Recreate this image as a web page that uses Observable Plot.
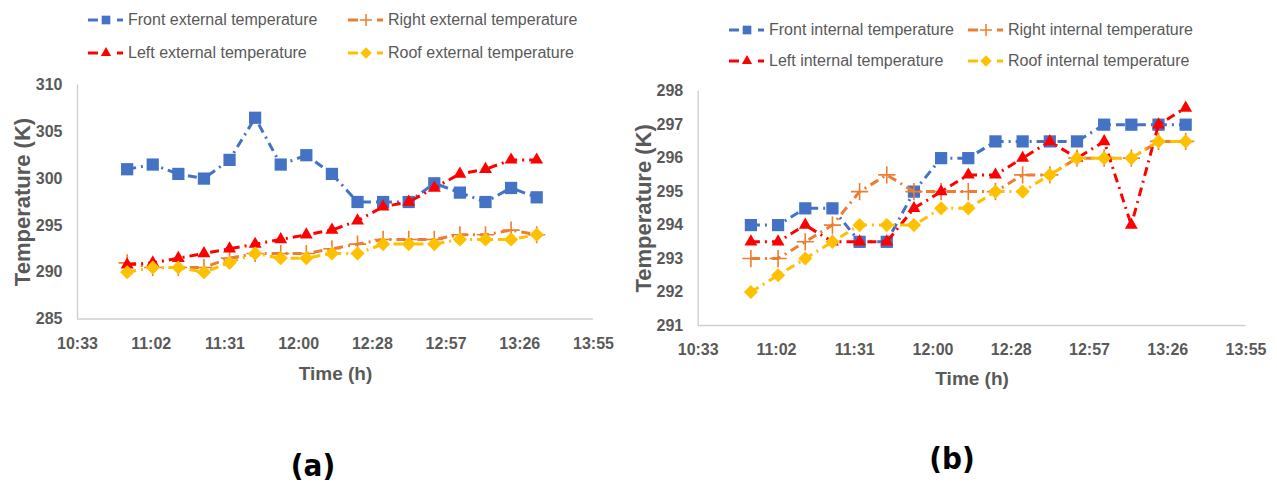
<!DOCTYPE html>
<html>
<head>
<meta charset="utf-8">
<script src="https://cdn.jsdelivr.net/npm/d3@7"></script>
<script src="https://cdn.jsdelivr.net/npm/@observablehq/plot@0.6"></script>
<style>
  body { margin: 0; background: #fff; font-family: "Liberation Sans", Arial, sans-serif; }
  #fig { position: relative; width: 1277px; height: 484px; overflow: hidden; background: #fff; }
  .panel { position: absolute; }
  .item { position: absolute; display: flex; align-items: center; height: 20px; font-size: 16px; color: #595959; white-space: nowrap; }
  .item svg { margin-right: 4px; overflow: visible; }
  .tag { position: absolute; transform: translate(-50%, -50%); font-family: "Liberation Sans Narrow", "DejaVu Sans Condensed", "Liberation Sans", sans-serif; font-weight: bold; font-size: 31px; color: #000; }
</style>
</head>
<body>
<div id="fig"></div>
<script>
// Sampling times (h:mm), one reading every 10 minutes
const times = ["10:53", "11:03", "11:13", "11:23", "11:33", "11:43", "11:53", "12:03", "12:13",
               "12:23", "12:33", "12:43", "12:53", "13:03", "13:13", "13:23", "13:33"];

// Time axis: ticks every 0.02 day, labels as shown in h:mm
const tickDays = [0.44, 0.46, 0.48, 0.50, 0.52, 0.54, 0.56, 0.58];
const tickLabels = ["10:33", "11:02", "11:31", "12:00", "12:28", "12:57", "13:26", "13:55"];

// External surface temperatures (K)
const frontExternal = [301, 301.5, 300.5, 300, 302, 306.5, 301.5, 302.5, 300.5, 297.5, 297.5, 297.5, 299.5, 298.5, 297.5, 299, 298];
const rightExternal = [291, 290.5, 290.5, 290.5, 291.5, 292, 292, 292, 292.5, 293, 293.5, 293.5, 293.5, 294, 294, 294.5, 294];
const leftExternal  = [290.8, 291, 291.5, 292, 292.5, 293, 293.5, 294, 294.5, 295.5, 297, 297.5, 299, 300.5, 301, 302, 302];
const roofExternal  = [290, 290.5, 290.5, 290, 291, 292, 291.5, 291.5, 292, 292, 293, 293, 293, 293.5, 293.5, 293.5, 294];

// Internal surface temperatures (K)
const frontInternal = [294, 294, 294.5, 294.5, 293.5, 293.5, 295, 296, 296, 296.5, 296.5, 296.5, 296.5, 297, 297, 297, 297];
const rightInternal = [293, 293, 293.5, 294, 295, 295.5, 295, 295, 295, 295, 295.5, 295.5, 296, 296, 296, 296.5, 296.5];
const leftInternal  = [293.5, 293.5, 294, 293.5, 293.5, 293.5, 294.5, 295, 295.5, 295.5, 296, 296.5, 296, 296.5, 294, 297, 297.5];
const roofInternal  = [292, 292.5, 293, 293.5, 294, 294, 294, 294.5, 294.5, 295, 295, 295.5, 296, 296, 296, 296.5, 296.5];

// Y axis ticks
const extTicks = [285, 290, 295, 300, 305, 310];
const intTicks = [291, 292, 293, 294, 295, 296, 297, 298];

const toMinutes = s => { const [h, m] = s.split(":").map(Number); return h * 60 + m; };
const xTicks = tickDays.map(d => d * 1440);
const xDomain = [xTicks[0], xTicks[xTicks.length - 1]];

const styles = {
  Front: { color: "#4472C4", symbol: "square",   r: 6.9, fill: true,  sw: 0 },
  Right: { color: "#ED7D31", symbol: "plus",     r: 5.6, fill: false, sw: 1.6 },
  Left:  { color: "#FF0000", symbol: "triangle", r: 4.8, fill: true,  sw: 0 },
  Roof:  { color: "#FFC000", symbol: "diamond2", r: 5.6, fill: true,  sw: 1.2 }
};
const dash = "9,5,2,5";

function seriesMarks(key, values) {
  const st = styles[key];
  const data = values.map((v, i) => ({ t: toMinutes(times[i]), v }));
  return [
    Plot.line(data, { x: "t", y: "v", stroke: st.color, strokeWidth: 3, strokeDasharray: dash, strokeLinecap: "butt" }),
    Plot.dot(data, {
      x: "t", y: "v", symbol: st.symbol, r: st.r,
      fill: st.fill ? st.color : "none",
      stroke: st.sw ? st.color : "none",
      strokeWidth: st.sw
    })
  ];
}

function panel({ series, yTicks, width, height, margin, yPad, xPad, yTitleDx, xTitleDy }) {
  return Plot.plot({
    width, height,
    marginLeft: margin[0], marginRight: margin[1], marginTop: margin[2], marginBottom: margin[3],
    style: { fontFamily: "'Liberation Sans', Arial, sans-serif", fontWeight: "bold", color: "#595959", background: "transparent", overflow: "visible" },
    x: { type: "linear", domain: xDomain },
    y: { domain: [yTicks[0], yTicks[yTicks.length - 1]] },
    marks: [
      Plot.ruleY([yTicks[0]], { stroke: "#d0d0d0", strokeWidth: 1.4 }),
      Plot.ruleX([xDomain[0]], { stroke: "#d0d0d0", strokeWidth: 1.4 }),
      Plot.axisY({ ticks: yTicks, tickSize: 0, tickPadding: yPad, fontSize: 16, label: null, tickFormat: d => String(d) }),
      Plot.axisX({ ticks: xTicks, tickSize: 0, tickPadding: xPad, fontSize: 16, label: null,
                   tickFormat: d => tickLabels[xTicks.findIndex(t => Math.abs(t - d) < 1e-6)] }),
      Plot.text(["Temperature (K)"], { frameAnchor: "left", dx: yTitleDx, rotate: -90, textAnchor: "middle", lineAnchor: "middle", fontSize: 22 }),
      Plot.text(["Time (h)"], { frameAnchor: "bottom", dy: xTitleDy, textAnchor: "middle", lineAnchor: "middle", fontSize: 19 }),
      ...series.flatMap(([key, values]) => seriesMarks(key, values))
    ]
  });
}

const fig = document.getElementById("fig");

function place(node, left, top) {
  node.classList.add("panel");
  node.style.left = left + "px";
  node.style.top = top + "px";
  fig.appendChild(node);
}

// (a) external temperatures
place(panel({
  series: [["Front", frontExternal], ["Right", rightExternal], ["Left", leftExternal], ["Roof", roofExternal]],
  yTicks: extTicks, width: 620, height: 320, margin: [77, 27, 14.5, 71.5],
  yPad: 15, xPad: 19, yTitleDx: -55, xTitleDy: 55
}), 0, 70);

// (b) internal temperatures
place(panel({
  series: [["Front", frontInternal], ["Right", rightInternal], ["Left", leftInternal], ["Roof", roofInternal]],
  yTicks: intTicks, width: 657, height: 330, margin: [77.7, 31.5, 20.7, 75],
  yPad: 15, xPad: 18, yTitleDx: -54.7, xTitleDy: 53
}), 620, 70);

// Legends
function legendSymbol(key) {
  const st = styles[key];
  const svg = d3.create("svg").attr("width", 36).attr("height", 16);
  svg.append("line").attr("x1", 0).attr("x2", 10).attr("y1", 8).attr("y2", 8)
    .attr("stroke", st.color).attr("stroke-width", 3);
  svg.append("line").attr("x1", 29).attr("x2", 35).attr("y1", 8).attr("y2", 8)
    .attr("stroke", st.color).attr("stroke-width", 3);
  const types = { square: d3.symbolSquare, plus: d3.symbolPlus, triangle: d3.symbolTriangle, diamond2: d3.symbolDiamond2 };
  const sizes = { square: 75, plus: 50, triangle: 45, diamond2: 55 };
  svg.append("path")
    .attr("transform", "translate(18,8)")
    .attr("d", d3.symbol(types[st.symbol], sizes[st.symbol])())
    .attr("fill", st.fill ? st.color : "none")
    .attr("stroke", st.sw ? st.color : "none")
    .attr("stroke-width", st.sw ? 1.5 : 0);
  return svg.node();
}

function legendItem(key, label, left, cy) {
  const div = document.createElement("div");
  div.className = "item";
  div.style.left = left + "px";
  div.style.top = (cy - 10) + "px";
  div.appendChild(legendSymbol(key));
  const span = document.createElement("span");
  span.textContent = label;
  div.appendChild(span);
  fig.appendChild(div);
}

legendItem("Front", "Front external temperature", 88, 20);
legendItem("Right", "Right external temperature", 348, 20);
legendItem("Left",  "Left external temperature", 88, 53);
legendItem("Roof",  "Roof external temperature", 348, 53);

legendItem("Front", "Front internal temperature", 729, 30);
legendItem("Right", "Right internal temperature", 968, 30);
legendItem("Left",  "Left internal temperature", 729, 61);
legendItem("Roof",  "Roof internal temperature", 968, 61);

// Panel tags
for (const [txt, x, y] of [["(a)", 313, 465], ["(b)", 952, 458]]) {
  const d = document.createElement("div");
  d.className = "tag";
  d.style.left = x + "px";
  d.style.top = y + "px";
  d.textContent = txt;
  fig.appendChild(d);
}
</script>
</body>
</html>
